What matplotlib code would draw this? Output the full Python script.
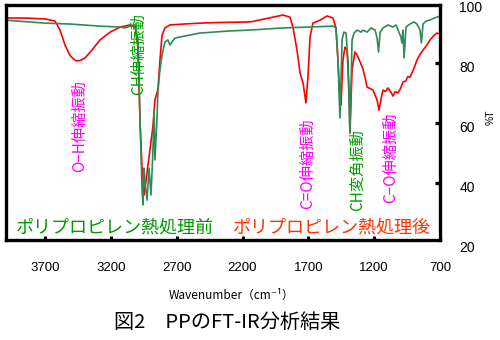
import matplotlib
matplotlib.use("Agg")
import matplotlib.pyplot as plt

plt.rcParams["font.family"] = ["Liberation Sans", "Noto Sans CJK JP", "DejaVu Sans"]

JP = ["Noto Sans CJK JP", "DejaVu Sans"]

# 熱処理後 (red)
after_wn = [4000, 3850, 3700, 3624, 3586, 3548, 3510, 3480, 3457, 3430, 3396, 3340,
            3282, 3206, 3130, 3054, 3016, 2994, 2978, 2963, 2948, 2935, 2918, 2900,
            2880, 2865, 2850, 2842, 2827, 2811, 2789, 2751, 2650, 2523, 2400, 2143,
            2000, 1892, 1839, 1816, 1786, 1763, 1740, 1718, 1703, 1687, 1665, 1611,
            1558, 1513, 1490, 1475, 1460, 1452, 1437, 1422, 1406, 1391, 1384, 1368,
            1346, 1330, 1308, 1285, 1270, 1254, 1230, 1209, 1178, 1163, 1148, 1133,
            1115, 1095, 1076, 1057, 1040, 1019, 1000, 981, 960, 945, 928, 900, 875,
            850, 829, 800, 776, 750, 723, 700]
after_t = [95.0, 95.0, 94.7, 94.0, 91.0, 86.0, 82.5, 81.2, 80.7, 80.9, 81.7, 84.5,
           87.7, 90.3, 92.0, 92.7, 92.0, 85.0, 60.0, 45.0, 36.0, 40.0, 46.0, 52.0,
           59.0, 67.7, 70.0, 71.0, 81.0, 89.3, 91.7, 92.7, 93.0, 93.3, 93.5, 93.7,
           95.0, 96.0, 95.3, 91.7, 84.3, 76.7, 73.3, 66.7, 75.3, 88.7, 93.3, 94.3,
           95.7, 95.0, 91.7, 81.0, 67.7, 66.0, 81.0, 85.3, 84.3, 71.0, 56.7, 77.7,
           83.7, 82.7, 80.5, 78.0, 75.3, 72.0, 71.5, 71.0, 67.7, 64.3, 68.0, 71.0,
           70.5, 71.7, 70.5, 69.0, 70.5, 70.0, 71.5, 73.7, 74.0, 75.5, 75.3, 78.0,
           81.0, 83.0, 84.3, 86.0, 87.7, 89.0, 90.0, 89.7]

# 熱処理前 (green)
before_wn = [4000, 3850, 3700, 3510, 3282, 3130, 3092, 3054, 3016, 2994, 2978, 2963,
             2956, 2948, 2940, 2925, 2910, 2895, 2880, 2872, 2865, 2850, 2842, 2827,
             2811, 2789, 2766, 2751, 2736, 2713, 2675, 2523, 2295, 2143, 1892, 1700,
             1513, 1490, 1475, 1460, 1452, 1444, 1430, 1414, 1399, 1384, 1376, 1368,
             1353, 1330, 1300, 1285, 1254, 1224, 1193, 1178, 1167, 1155, 1133, 1095,
             1057, 1034, 997, 989, 981, 973, 958, 928, 898, 875, 852, 841, 829, 806,
             776, 745, 723, 700]
before_t = [94.3, 93.8, 93.3, 93.0, 92.3, 92.0, 91.7, 92.3, 92.7, 87.7, 61.0, 37.7,
            32.7, 45.0, 40.0, 34.3, 45.0, 36.0, 51.0, 64.3, 47.7, 61.0, 71.0, 77.7,
            82.7, 87.0, 87.7, 86.0, 87.0, 88.3, 88.7, 90.0, 90.7, 91.0, 91.7, 92.0,
            92.3, 91.7, 81.0, 61.7, 74.3, 87.7, 90.3, 90.0, 81.0, 56.7, 71.0, 87.7,
            90.0, 91.0, 90.3, 91.0, 90.3, 91.7, 91.0, 88.3, 83.7, 90.3, 91.7, 92.7,
            92.0, 92.7, 88.7, 86.7, 91.0, 81.7, 92.0, 93.0, 93.7, 93.0, 91.0, 86.7,
            93.0, 94.0, 94.3, 95.0, 95.3, 95.7]

x_ticks = [3700, 3200, 2700, 2200, 1700, 1200, 700]
y_ticks = [20, 40, 60, 80, 100]

fig = plt.figure(figsize=(5, 3.4), dpi=100)
ax = fig.add_axes([0.011, 0.294, 0.869, 0.690])

ax.plot(after_wn, after_t, color="#ff0000", lw=1.2)
ax.plot(before_wn, before_t, color="#2e8b57", lw=1.2)

ax.set_xlim(4000, 700)
ax.set_ylim(21, 99.2)

for side in ["left", "right", "top", "bottom"]:
    ax.spines[side].set_linewidth(2.4)

ax.set_xticks(x_ticks[:-1])
ax.set_xticklabels([str(v) for v in x_ticks[:-1]])
ax.tick_params(axis="x", direction="in", length=3, width=2.2, pad=16, labelsize=9.5)
ax.yaxis.tick_right()
ax.set_yticks([40, 60, 80])
ax.tick_params(axis="y", direction="in", length=3.5, width=2.4, labelright=False)

# 700 sits on the right edge, so label it by hand
ax.annotate("700", xy=(700, 21), xycoords="data", xytext=(0, -16),
            textcoords="offset points", ha="center", va="top", fontsize=9.5,
            annotation_clip=False)

# right-hand %T scale
for v in y_ticks:
    ax.annotate(str(v), xy=(1, v), xycoords=("axes fraction", "data"),
                xytext=(14, -3.3), textcoords="offset points", ha="left",
                va="center", fontsize=10, annotation_clip=False)
fig.text(0.982, 0.655, "%T", rotation=90, ha="center", va="center", fontsize=7.5)

ax.text(0.52, -0.235, "Wavenumber（cm⁻¹）", transform=ax.transAxes, ha="center",
        va="center", fontsize=8.5, family=JP)
fig.text(0.455, 0.052, "図2　PPのFT-IR分析結果", ha="center", va="center",
         fontsize=14.5, family=JP)

# band assignments
bands = [
    (3440, 59.0, "O−H伸縮振動", "#ff00ff"),
    (2990, 83.0, "CH伸縮振動", "#00a000"),
    (1710, 46.3, "C=O伸縮振動", "#ff00ff"),
    (1325, 44.3, "CH変角振動", "#00a000"),
    (1075, 48.3, "C−O伸縮振動", "#ff00ff"),
]
for wn, t, text, color in bands:
    ax.text(wn, t, text, rotation=90, ha="center", va="center", fontsize=11,
            color=color, family=JP)

ax.text(0.252, 0.055, "ポリプロピレン熱処理前", transform=ax.transAxes, ha="center",
        va="center", fontsize=13, color="#009900", family=JP)
ax.text(0.75, 0.055, "ポリプロピレン熱処理後", transform=ax.transAxes, ha="center",
        va="center", fontsize=13, color="#ff3300", family=JP)

fig.savefig("out.png", dpi=100)
